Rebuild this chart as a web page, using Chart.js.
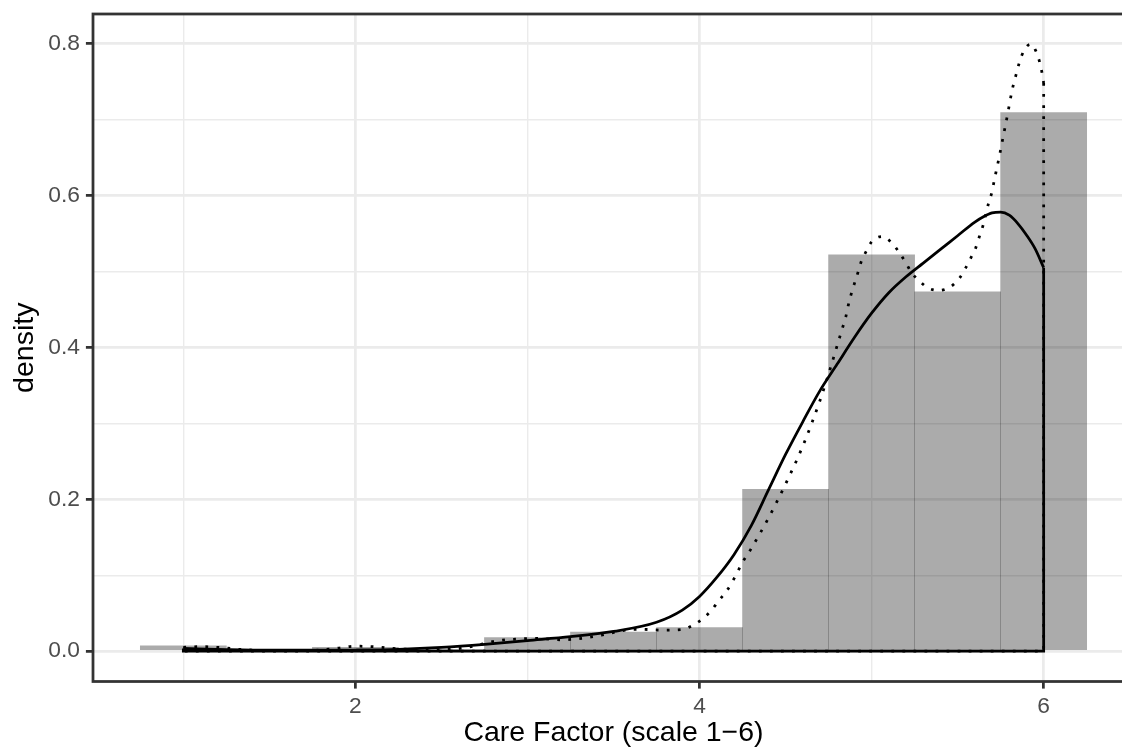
<!DOCTYPE html>
<html>
<head>
<meta charset="utf-8">
<script src="https://cdn.jsdelivr.net/npm/chart.js@4.4.1/dist/chart.umd.min.js"></script>
<style>
  html, body { margin: 0; padding: 0; background: #ffffff; overflow: hidden; }
  #wrap { width: 1122px; height: 752px; overflow: hidden; position: relative; }
  #c { position: absolute; left: 0; top: 0; }
</style>
</head>
<body>
<div id="wrap"><canvas id="c" width="1148" height="752"></canvas></div>
<script>
// ---- data ----
const binCenters = [1, 1.5, 2, 2.5, 3, 3.5, 4, 4.5, 5, 5.5, 6];
const binDensity = [0.007, 0, 0.005, 0.002, 0.018, 0.025, 0.031, 0.213, 0.522, 0.473, 0.709];

const solidX = [1, 1.25, 1.5, 1.75, 2, 2.25, 2.5, 2.75, 3, 3.25, 3.5, 3.75, 3.9, 4.0, 4.1, 4.2, 4.3, 4.4, 4.5, 4.6, 4.7, 4.8, 4.9, 5.0, 5.1, 5.2, 5.3, 5.4, 5.5, 5.6, 5.65, 5.7, 5.75, 5.8, 5.85, 5.9, 5.95, 6.0];
const solidY = [0.0035, 0.002, 0.0012, 0.0012, 0.0015, 0.0025, 0.005, 0.009, 0.014, 0.019, 0.026, 0.038, 0.054, 0.072, 0.097, 0.127, 0.165, 0.212, 0.259, 0.302, 0.343, 0.378, 0.413, 0.445, 0.472, 0.493, 0.511, 0.529, 0.547, 0.565, 0.572, 0.577, 0.578, 0.574, 0.563, 0.548, 0.53, 0.505];

const dotX = [1.0, 1.1, 1.2, 1.35, 1.5, 1.75, 1.9, 2.0, 2.1, 2.25, 2.5, 2.65, 2.82, 2.95, 3.05, 3.2, 3.3, 3.43, 3.55, 3.65, 3.8, 3.9, 3.96, 4.02, 4.07, 4.11, 4.15, 4.19, 4.22, 4.25, 4.3, 4.4, 4.5, 4.6, 4.7, 4.75, 4.81, 4.83, 4.85, 4.864, 4.88, 4.9, 4.92, 4.94, 4.97, 5.0, 5.06, 5.12, 5.16, 5.2, 5.23, 5.28, 5.33, 5.39, 5.46, 5.51, 5.545, 5.575, 5.605, 5.625, 5.647, 5.68, 5.70, 5.713, 5.727, 5.741, 5.767, 5.793, 5.805, 5.818, 5.834, 5.851, 5.872, 5.905, 5.93, 5.953, 5.975, 5.99, 6.0];
const dotY = [0.005, 0.006, 0.005, 0.002, 0.0008, 0.001, 0.004, 0.0065, 0.006, 0.003, 0.002, 0.005, 0.0135, 0.016, 0.0167, 0.015, 0.0165, 0.021, 0.027, 0.0288, 0.0276, 0.0285, 0.034, 0.043, 0.054, 0.066, 0.077, 0.091, 0.104, 0.117, 0.135, 0.175, 0.22, 0.27, 0.33, 0.365, 0.41, 0.425, 0.44, 0.455, 0.469, 0.484, 0.498, 0.513, 0.527, 0.539, 0.546, 0.537, 0.525, 0.511, 0.499, 0.487, 0.478, 0.475, 0.48, 0.491, 0.504, 0.517, 0.531, 0.545, 0.56, 0.59, 0.605, 0.62, 0.635, 0.65, 0.68, 0.71, 0.725, 0.74, 0.754, 0.769, 0.784, 0.797, 0.799, 0.791, 0.777, 0.762, 0.748];

const xTickValues = [2, 4, 6];
const xTickLabels = ['2', '4', '6'];
const xMinorValues = [1, 3, 5];
const yTickValues = [0, 0.2, 0.4, 0.6, 0.8];
const yTickLabels = ['0.0', '0.2', '0.4', '0.6', '0.8'];
const yMinorValues = [0.1, 0.3, 0.5, 0.7];

const xTitle = 'Care Factor (scale 1\u22126)';
const yTitle = 'density';

// ---- build ----
const toPts = (xs, ys) => xs.map((x, i) => ({ x: x, y: ys[i] }));
const closure = (xs, ys) => [
  { x: xs[xs.length - 1], y: ys[ys.length - 1] },
  { x: xs[xs.length - 1], y: 0 },
  { x: xs[0], y: 0 },
  { x: xs[0], y: ys[0] }
];

const FONT = "'Liberation Sans', Arial, Helvetica, sans-serif";
const LW = 2.76;

function tickSet(major, minor, labels) {
  return function (scale) {
    const t = [];
    major.forEach((v, i) => t.push({ value: v, label: labels[i], major: true }));
    minor.forEach(v => t.push({ value: v, label: '', major: false }));
    t.sort((a, b) => a.value - b.value);
    scale.ticks = t;
  };
}
function noPad(s) {
  s.paddingTop = 0; s.paddingBottom = 0; s.paddingLeft = 0; s.paddingRight = 0;
}

const borderPlugin = {
  id: 'panelBorder',
  afterDatasetsDraw(chart) {
    const a = chart.chartArea, c = chart.ctx;
    c.save();
    c.strokeStyle = '#333333';
    c.lineWidth = LW;
    c.strokeRect(a.left, a.top, a.right - a.left, a.bottom - a.top);
    c.restore();
  }
};

const dotted = {
  borderColor: '#000000', borderWidth: LW, borderDash: [2.76, 8.28],
  pointRadius: 0, fill: false
};
const solid = {
  borderColor: '#000000', borderWidth: LW, pointRadius: 0, fill: false
};

const gridOpts = {
  color: '#ebebeb', offset: false,
  lineWidth: ctx => (ctx.tick && ctx.tick.major) ? LW : LW / 2,
  tickColor: ctx => (ctx.tick && ctx.tick.major) ? '#333333' : 'rgba(0,0,0,0)',
  tickWidth: LW, tickLength: 7.1, drawTicks: true
};

new Chart(document.getElementById('c'), {
  type: 'bar',
  data: {
    datasets: [
      Object.assign({ type: 'line', data: toPts(dotX, dotY), cubicInterpolationMode: 'monotone', order: 0 }, dotted),
      Object.assign({ type: 'line', data: closure(dotX, dotY), tension: 0, order: 0 }, dotted),
      Object.assign({ type: 'line', data: toPts(solidX, solidY), cubicInterpolationMode: 'monotone', order: 1 }, solid),
      Object.assign({ type: 'line', data: closure(solidX, solidY), tension: 0, order: 1 }, solid),
      {
        type: 'bar', data: toPts(binCenters, binDensity), order: 5,
        backgroundColor: 'rgba(0,0,0,0.33)', borderWidth: 0,
        barPercentage: 1, categoryPercentage: 1, grouped: false
      }
    ]
  },
  options: {
    responsive: false, animation: false, devicePixelRatio: 1,
    layout: { padding: { top: 14, left: 0, right: 14, bottom: 0 } },
    plugins: { legend: { display: false }, tooltip: { enabled: false } },
    scales: {
      x: {
        type: 'linear', min: 0.475, max: 6.525, offset: false,
        afterBuildTicks: tickSet(xTickValues, xMinorValues, xTickLabels),
        afterFit(s) { s.height = 70.5; noPad(s); },
        border: { display: false },
        grid: gridOpts,
        ticks: {
          autoSkip: false, maxRotation: 0, padding: 4.2,
          color: '#4d4d4d', font: { family: FONT, size: 22.8 },
          callback: function (v, i, ticks) { return ticks[i].label; }
        },
        title: {
          display: true, text: xTitle, color: '#000000',
          font: { family: FONT, size: 28.5, lineHeight: 1.2 },
          padding: { top: 0, bottom: 1.8 }
        }
      },
      y: {
        type: 'linear', min: -0.03995, max: 0.83895,
        afterBuildTicks: tickSet(yTickValues, yMinorValues, yTickLabels),
        afterFit(s) { s.width = 93; noPad(s); },
        border: { display: false },
        grid: gridOpts,
        ticks: {
          autoSkip: false, padding: 6,
          color: '#4d4d4d', font: { family: FONT, size: 22.8 },
          callback: function (v, i, ticks) { return ticks[i].label; }
        },
        title: {
          display: true, text: yTitle, color: '#000000',
          font: { family: FONT, size: 28.5, lineHeight: 1.2 },
          padding: { top: 7.8, bottom: 0 }
        }
      }
    }
  },
  plugins: [borderPlugin]
});
</script>
</body>
</html>
